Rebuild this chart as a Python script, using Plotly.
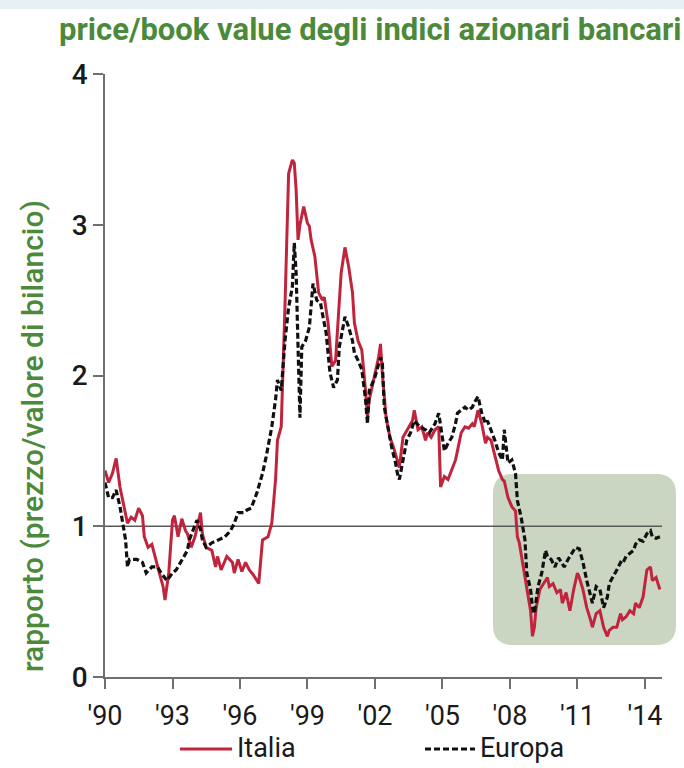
import plotly.graph_objects as go

# Monthly observations (price/book ratio of bank equity indices)
months_it = [
    "1990-01", "1990-03", "1990-05", "1990-07", "1990-09", "1990-11", "1991-01", "1991-03",
    "1991-05", "1991-07", "1991-09", "1991-10", "1991-12", "1992-02", "1992-04", "1992-06",
    "1992-08", "1992-09", "1992-11", "1993-01", "1993-02", "1993-04", "1993-06", "1993-08",
    "1993-09", "1993-11", "1994-01", "1994-04", "1994-05", "1994-07", "1994-10", "1994-12",
    "1995-01", "1995-03", "1995-06", "1995-09", "1995-10", "1995-12", "1996-02", "1996-04",
    "1996-06", "1996-08", "1996-11", "1997-01", "1997-04", "1997-06", "1997-08", "1997-09",
    "1997-11", "1997-12", "1998-01", "1998-03", "1998-05", "1998-06", "1998-07", "1998-08",
    "1998-09", "1998-11", "1999-01", "1999-02", "1999-03", "1999-05", "1999-07", "1999-09",
    "1999-10", "1999-12", "2000-02", "2000-04", "2000-05", "2000-07", "2000-09", "2000-11",
    "2001-01", "2001-02", "2001-04", "2001-06", "2001-08", "2001-09", "2001-10", "2001-12",
    "2002-03", "2002-04", "2002-05", "2002-07", "2002-09", "2002-11", "2003-01", "2003-02",
    "2003-04", "2003-07", "2003-09", "2003-10", "2003-12", "2004-02", "2004-04", "2004-05",
    "2004-07", "2004-09", "2004-11", "2004-12", "2005-02", "2005-04", "2005-06", "2005-08",
    "2005-09", "2005-11", "2006-01", "2006-03", "2006-05", "2006-06", "2006-08", "2006-10",
    "2006-12", "2007-01", "2007-03", "2007-05", "2007-07", "2007-09", "2007-10", "2007-12",
    "2008-02", "2008-04", "2008-05", "2008-06", "2008-08", "2008-10", "2008-12", "2009-01",
    "2009-02", "2009-03", "2009-05", "2009-07", "2009-09", "2009-10", "2009-12", "2010-02",
    "2010-04", "2010-05", "2010-07", "2010-09", "2010-11", "2011-01", "2011-02", "2011-04",
    "2011-06", "2011-08", "2011-09", "2011-11", "2012-01", "2012-03", "2012-05", "2012-06",
    "2012-08", "2012-10", "2012-12", "2013-01", "2013-03", "2013-05", "2013-07", "2013-08",
    "2013-10", "2013-12", "2014-02", "2014-04", "2014-05", "2014-07", "2014-09",
]
italia = [
    1.37, 1.29, 1.35, 1.45, 1.26, 1.13, 1.02, 1.06,
    1.04, 1.12, 1.07, 0.93, 0.86, 0.88, 0.78, 0.69,
    0.60, 0.51, 0.69, 1.04, 1.07, 0.93, 1.05, 0.97,
    0.95, 0.86, 0.93, 1.09, 0.95, 0.86, 0.84, 0.73,
    0.80, 0.71, 0.80, 0.76, 0.69, 0.78, 0.70, 0.76,
    0.71, 0.68, 0.62, 0.91, 0.93, 1.02, 1.31, 1.57,
    1.66, 2.01, 2.46, 3.34, 3.43, 3.41, 3.23, 2.90,
    3.00, 3.12, 3.01, 2.99, 2.90, 2.79, 2.55, 2.50,
    2.52, 2.35, 2.06, 2.10, 2.32, 2.68, 2.85, 2.72,
    2.55, 2.35, 2.23, 2.17, 1.90, 1.72, 1.84, 1.95,
    2.12, 2.21, 2.01, 1.72, 1.59, 1.52, 1.44, 1.39,
    1.59, 1.66, 1.70, 1.77, 1.64, 1.66, 1.57, 1.62,
    1.59, 1.64, 1.66, 1.26, 1.33, 1.31, 1.37, 1.44,
    1.50, 1.62, 1.66, 1.65, 1.68, 1.66, 1.77, 1.68,
    1.55, 1.59, 1.57, 1.46, 1.37, 1.31, 1.30, 1.19,
    1.13, 1.10, 0.93, 0.89, 0.73, 0.58, 0.44, 0.27,
    0.33, 0.46, 0.58, 0.62, 0.66, 0.60, 0.62, 0.56,
    0.58, 0.49, 0.56, 0.44, 0.58, 0.69, 0.66, 0.58,
    0.46, 0.38, 0.33, 0.42, 0.44, 0.33, 0.27, 0.31,
    0.33, 0.33, 0.42, 0.38, 0.40, 0.44, 0.42, 0.49,
    0.46, 0.53, 0.71, 0.73, 0.64, 0.66, 0.58,
]

months_eu = [
    "1990-01", "1990-03", "1990-05", "1990-07", "1990-09", "1990-11", "1990-12", "1991-01",
    "1991-02", "1991-06", "1991-09", "1991-11", "1992-02", "1992-05", "1992-07", "1992-10",
    "1993-01", "1993-03", "1993-06", "1993-09", "1993-10", "1993-12", "1994-02", "1994-04",
    "1994-05", "1994-07", "1994-10", "1994-12", "1995-02", "1995-05", "1995-08", "1995-10",
    "1995-12", "1996-03", "1996-05", "1996-07", "1996-10", "1997-01", "1997-03", "1997-06",
    "1997-08", "1997-09", "1997-11", "1998-01", "1998-03", "1998-05", "1998-06", "1998-07",
    "1998-08", "1998-09", "1998-10", "1998-12", "1999-02", "1999-04", "1999-06", "1999-08",
    "1999-09", "1999-11", "2000-01", "2000-03", "2000-05", "2000-06", "2000-09", "2000-11",
    "2001-01", "2001-02", "2001-04", "2001-06", "2001-08", "2001-09", "2001-10", "2002-01",
    "2002-04", "2002-05", "2002-06", "2002-08", "2002-10", "2002-12", "2003-01", "2003-02",
    "2003-04", "2003-06", "2003-08", "2003-10", "2004-01", "2004-04", "2004-06", "2004-09",
    "2004-11", "2005-01", "2005-02", "2005-04", "2005-06", "2005-08", "2005-09", "2005-11",
    "2006-01", "2006-03", "2006-05", "2006-06", "2006-08", "2006-10", "2006-12", "2007-01",
    "2007-03", "2007-05", "2007-07", "2007-09", "2007-10", "2007-12", "2008-02", "2008-04",
    "2008-05", "2008-07", "2008-09", "2008-10", "2008-12", "2009-01", "2009-02", "2009-04",
    "2009-06", "2009-08", "2009-09", "2009-11", "2010-01", "2010-03", "2010-05", "2010-06",
    "2010-08", "2010-10", "2010-12", "2011-02", "2011-04", "2011-06", "2011-08", "2011-09",
    "2011-11", "2012-01", "2012-03", "2012-05", "2012-06", "2012-08", "2012-10", "2012-12",
    "2013-01", "2013-03", "2013-05", "2013-07", "2013-08", "2013-10", "2013-12", "2014-02",
    "2014-04", "2014-05", "2014-07", "2014-09",
]
europa = [
    1.29, 1.19, 1.19, 1.24, 1.13, 0.99, 0.91, 0.73,
    0.78, 0.78, 0.76, 0.69, 0.73, 0.73, 0.69, 0.64,
    0.69, 0.71, 0.78, 0.84, 0.91, 0.97, 1.04, 0.98,
    0.91, 0.86, 0.89, 0.90, 0.91, 0.93, 0.97, 1.02,
    1.09, 1.09, 1.11, 1.12, 1.22, 1.35, 1.46, 1.66,
    1.84, 1.97, 1.90, 2.23, 2.45, 2.59, 2.88, 2.68,
    2.19, 1.72, 2.19, 2.23, 2.32, 2.61, 2.50, 2.48,
    2.41, 2.28, 2.02, 1.92, 1.97, 2.19, 2.39, 2.32,
    2.23, 2.15, 2.10, 2.04, 1.84, 1.68, 1.90, 1.99,
    2.12, 2.08, 1.79, 1.64, 1.52, 1.42, 1.35, 1.31,
    1.44, 1.57, 1.62, 1.70, 1.66, 1.64, 1.62, 1.68,
    1.75, 1.57, 1.50, 1.55, 1.59, 1.68, 1.75, 1.77,
    1.79, 1.77, 1.79, 1.82, 1.86, 1.75, 1.68, 1.70,
    1.64, 1.57, 1.49, 1.44, 1.64, 1.42, 1.44, 1.35,
    1.17, 1.06, 0.91, 0.69, 0.58, 0.46, 0.42, 0.60,
    0.69, 0.84, 0.80, 0.78, 0.73, 0.79, 0.75, 0.73,
    0.78, 0.82, 0.86, 0.85, 0.76, 0.64, 0.53, 0.49,
    0.60, 0.58, 0.46, 0.53, 0.62, 0.66, 0.71, 0.76,
    0.75, 0.80, 0.82, 0.84, 0.88, 0.91, 0.90, 0.95,
    0.97, 0.93, 0.92, 0.93,
]

tick_dates = ["1990-01-01", "1993-01-01", "1996-01-01", "1999-01-01", "2002-01-01",
              "2005-01-01", "2008-01-01", "2011-01-01", "2014-01-01"]
tick_labels = ["'90", "'93", "'96", "'99", "'02", "'05", "'08", "'11", "'14"]

GREEN = "#4b8a3a"
RED = "#c0253d"
INK = "#1a1a1a"
AXIS = "#6f6f6f"
FONT = "Roboto, Arial, sans-serif"
EU_DASH = "6px,3px"

W, H = 684, 768
L, R, T, B = 105, 22, 74, 91
pw, ph = W - L - R, H - T - B


def px(xpix):
    return (xpix - L) / pw


def py(ypix):
    return (H - B - ypix) / ph


fig = go.Figure()
fig.add_trace(go.Scatter(x=months_it, y=italia, name="Italia", mode="lines",
                         line=dict(color=RED, width=3), showlegend=False))
fig.add_trace(go.Scatter(x=months_eu, y=europa, name="Europa", mode="lines",
                         line=dict(color="#111111", width=3.2, dash=EU_DASH), showlegend=False))

# highlighted crisis period: rounded box in paper coordinates
x0, x1, y0, y1 = px(493), px(676), py(645), py(474)
rx, ry = 20 / pw, 20 / ph
box = (f"M {x0 + rx},{y0} L {x1 - rx},{y0} Q {x1},{y0} {x1},{y0 + ry} "
       f"L {x1},{y1 - ry} Q {x1},{y1} {x1 - rx},{y1} "
       f"L {x0 + rx},{y1} Q {x0},{y1} {x0},{y1 - ry} "
       f"L {x0},{y0 + ry} Q {x0},{y0} {x0 + rx},{y0} Z")
fig.add_shape(type="path", path=box, xref="paper", yref="paper",
              fillcolor="#cbd6c2", line=dict(width=0), layer="below")
# reference line at ratio 1
fig.add_shape(type="line", xref="paper", yref="y", x0=0, x1=1, y0=1, y1=1,
              line=dict(color="#5a5a5a", width=1.5), layer="below")
# thin tinted strip along the top edge
fig.add_shape(type="rect", xref="paper", yref="paper",
              x0=px(0), x1=px(W), y0=py(9), y1=py(0),
              fillcolor="#e7f1f4", line=dict(width=0), layer="below")

# legend: line sample + label for each series
legend_items = [("Italia", RED, "solid", 180, 232), ("Europa", "#111111", EU_DASH, 425, 475)]
for name, color, dash, xa, xb in legend_items:
    fig.add_shape(type="line", xref="paper", yref="paper",
                  x0=px(xa), x1=px(xb), y0=py(749), y1=py(749),
                  line=dict(color=color, width=3, dash=dash))
    fig.add_annotation(text=name, xref="paper", yref="paper", x=px(xb + 3), y=py(748),
                       xanchor="left", yanchor="middle", showarrow=False,
                       font=dict(family=FONT, size=27, color=INK))

fig.add_annotation(text="<b>price/book value degli indici azionari bancari</b>",
                   xref="paper", yref="paper", x=px(370), y=py(29),
                   xanchor="center", yanchor="middle", showarrow=False,
                   font=dict(family=FONT, size=31, color=GREEN))
fig.add_annotation(text="rapporto (prezzo/valore di bilancio)",
                   xref="paper", yref="paper", x=px(33), y=py(436),
                   xanchor="center", yanchor="middle", showarrow=False, textangle=-90,
                   font=dict(family=FONT, size=30, color=GREEN, weight=500))

fig.update_layout(
    width=W, height=H,
    margin=dict(l=L, r=R, t=T, b=B, autoexpand=False),
    paper_bgcolor="white", plot_bgcolor="white",
    font=dict(family=FONT, color=INK),
    showlegend=False,
    xaxis=dict(type="date", range=["1990-01-01", "2014-10-05"],
               tickvals=tick_dates, ticktext=tick_labels, automargin=False,
               ticks="outside", ticklen=10, tickwidth=1.5, tickcolor=AXIS,
               ticklabelstandoff=4,
               showline=True, linecolor=AXIS, linewidth=1.5,
               showgrid=False, zeroline=False,
               tickfont=dict(family=FONT, size=27, color=INK)),
    yaxis=dict(range=[0, 4], tickvals=[0, 1, 2, 3, 4], automargin=False,
               ticks="outside", ticklen=10, tickwidth=1.5, tickcolor=AXIS,
               showline=True, linecolor=AXIS, linewidth=1.5,
               showgrid=False, zeroline=False,
               tickfont=dict(family=FONT, size=28, color=INK, weight=500)),
)

fig.write_html("out.html")
